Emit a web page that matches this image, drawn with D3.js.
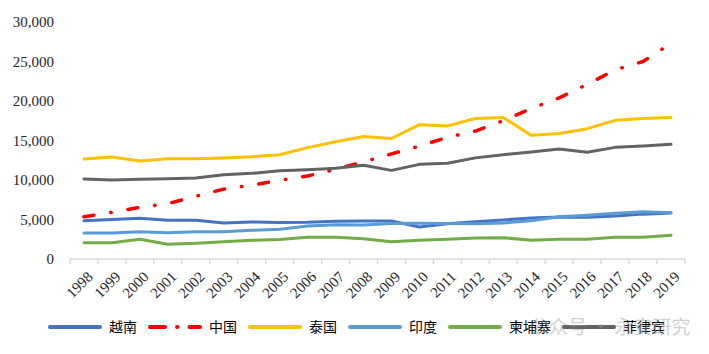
<!DOCTYPE html>
<html lang="zh-CN">
<head>
  <meta charset="UTF-8" />
  <title>越南、中国等国家对比</title>
  <script src="https://cdn.jsdelivr.net/npm/d3@7/dist/d3.min.js"></script>
  <style>
    html, body { margin: 0; padding: 0; background: #fff; }
    #chart { width: 709px; height: 354px; }
  </style>
</head>
<body>
  <div id="chart"></div>
  <script>
    // 数据
    const years = ["1998","1999","2000","2001","2002","2003","2004","2005","2006","2007","2008",
                   "2009","2010","2011","2012","2013","2014","2015","2016","2017","2018","2019"];
    const vietnam     = [4850,5000,5150,4900,4900,4560,4680,4620,4640,4770,4800,4800,4050,4470,4720,4940,5200,5330,5270,5440,5680,5820];
    const china       = [5350,5900,6550,7000,7950,8850,9350,9950,10500,11350,12300,13300,14300,15400,16200,17500,19050,20400,22100,23950,25000,27300];
    const thailand    = [12650,12900,12400,12700,12700,12800,12950,13200,14100,14850,15500,15250,17000,16850,17780,17900,15650,15880,16500,17550,17780,17900];
    const india       = [3300,3300,3460,3330,3460,3460,3630,3780,4180,4350,4300,4500,4510,4500,4450,4560,4850,5350,5530,5780,5980,5850];
    const cambodia    = [2060,2060,2500,1880,1990,2190,2360,2480,2740,2740,2570,2190,2360,2490,2660,2700,2360,2490,2490,2740,2740,3000];
    const philippines = [10130,10000,10090,10170,10250,10670,10840,11180,11310,11480,11860,11220,11980,12110,12800,13200,13540,13920,13500,14130,14300,14510];
    const yTicks = [0,5000,10000,15000,20000,25000,30000];

    const series = [
      { name: "越南",   values: vietnam,     color: "#4472C4" },
      { name: "中国",   values: china,       color: "#FF0000", dash: "10,17,0.5,17" },
      { name: "泰国",   values: thailand,    color: "#FFC000" },
      { name: "印度",   values: india,       color: "#5B9BD5" },
      { name: "柬埔寨", values: cambodia,    color: "#70AD47" },
      { name: "菲律宾", values: philippines, color: "#636363" }
    ];

    const width = 709, height = 354;
    const svg = d3.select("#chart").append("svg")
      .attr("width", width).attr("height", height)
      .style("background", "#fff");

    const x = d3.scaleBand().domain(years).range([70, 685]).padding(0);
    const y = d3.scaleLinear().domain([0, 30000]).range([259, 22]);
    const cx = d => x(d) + x.bandwidth() / 2;

    // y轴刻度文字
    svg.append("g")
      .selectAll("text")
      .data(yTicks)
      .enter().append("text")
      .attr("x", 54)
      .attr("y", d => y(d))
      .attr("dy", "0.35em")
      .attr("text-anchor", "end")
      .attr("font-family", "'Liberation Serif', 'Times New Roman', serif")
      .attr("font-size", 15)
      .attr("fill", "#262626")
      .text(d => d3.format(",")(d));

    // x轴
    const xAxis = svg.append("g");
    xAxis.append("line")
      .attr("x1", 70).attr("x2", 685)
      .attr("y1", y(0)).attr("y2", y(0))
      .attr("stroke", "#D9D9D9").attr("stroke-width", 1.5);
    const bounds = years.map(d => x(d)).concat([685]);
    xAxis.selectAll("line.tick")
      .data(bounds)
      .enter().append("line")
      .attr("class", "tick")
      .attr("x1", d => d).attr("x2", d => d)
      .attr("y1", y(0)).attr("y2", y(0) + 5)
      .attr("stroke", "#D9D9D9").attr("stroke-width", 1.5);
    xAxis.selectAll("text")
      .data(years)
      .enter().append("text")
      .attr("transform", d => `translate(${cx(d) + 6},${y(0) + 15}) rotate(-45)`)
      .attr("text-anchor", "end")
      .attr("dy", "0.35em")
      .attr("font-family", "'Liberation Serif', 'Times New Roman', serif")
      .attr("font-size", 15)
      .attr("fill", "#262626")
      .text(d => d);

    // 折线
    const line = d3.line()
      .x((d, i) => cx(years[i]))
      .y(d => y(d));

    svg.append("g")
      .selectAll("path")
      .data(series)
      .enter().append("path")
      .attr("d", s => line(s.values))
      .attr("fill", "none")
      .attr("stroke", s => s.color)
      .attr("stroke-width", s => s.dash ? 3.5 : 3)
      .attr("stroke-linecap", "round")
      .attr("stroke-linejoin", "round")
      .attr("stroke-dasharray", s => s.dash || null);

    // 图例
    const legend = svg.append("g").attr("transform", "translate(0,327)");
    let lx = 50;
    series.forEach(s => {
      const g = legend.append("g").attr("transform", `translate(${lx},0)`);
      g.append("line")
        .attr("x1", 0).attr("x2", 50)
        .attr("stroke", s.color)
        .attr("stroke-width", 4)
        .attr("stroke-linecap", "round")
        .attr("stroke-dasharray", s.dash ? "15,12,0.5,12" : null);
      const t = g.append("text")
        .attr("x", 59)
        .attr("dy", "0.35em")
        .attr("font-family", "'Noto Sans CJK SC', sans-serif")
        .attr("font-size", 14)
        .attr("fill", "#000")
        .text(s.name);
      lx += 59 + t.node().getComputedTextLength() + 13;
    });

    // 水印
    svg.append("text")
      .attr("x", 530).attr("y", 327)
      .attr("dy", "0.35em")
      .attr("font-family", "'Noto Sans CJK SC', sans-serif")
      .attr("font-size", 19)
      .attr("fill", "#999")
      .attr("opacity", 0.45)
      .text("公众号 · 永安研究");
  </script>
</body>
</html>
